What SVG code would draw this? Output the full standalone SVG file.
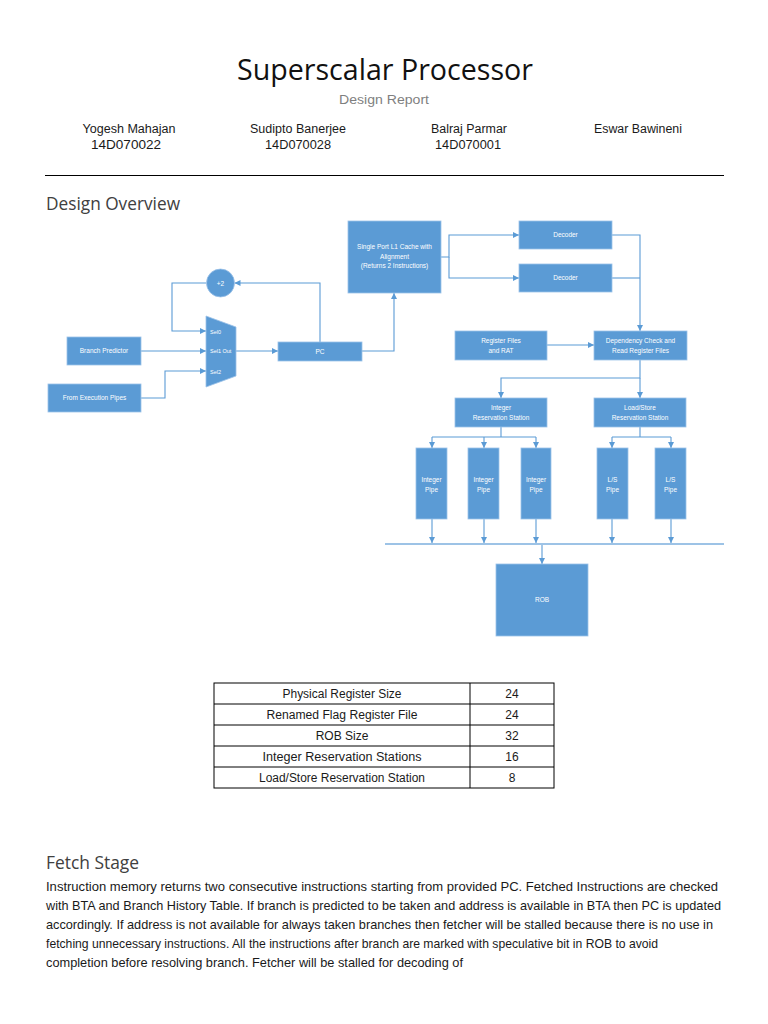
<svg xmlns="http://www.w3.org/2000/svg" width="768" height="1024" viewBox="0 0 768 1024">
<defs>
<style>
.bx{fill:#5B9BD5;stroke:#9CC2E8;stroke-width:0.8}
.bt{font-family:"Liberation Sans",Arial,sans-serif;font-size:6.5px;fill:#ffffff;text-anchor:middle}
.ct{fill:none;stroke:#5B9BD5;stroke-width:1.1}
.hd{font-family:"Open Sans","Liberation Sans",sans-serif;fill:#404040}
.tx{font-family:"Liberation Sans",Arial,sans-serif;fill:#1a1a1a}
.tc{font-family:"Liberation Sans",Arial,sans-serif;font-size:12px;fill:#1a1a1a;text-anchor:middle}
</style>
<marker id="a" viewBox="0 0 10 10" refX="10" refY="5" markerWidth="6" markerHeight="6" orient="auto" markerUnits="userSpaceOnUse"><path d="M0,0 L10,5 L0,10 z" fill="#5B9BD5"/></marker>
</defs>
<rect width="768" height="1024" fill="#ffffff"/>

<g id="header">
<text x="385" y="80" text-anchor="middle" class="hd" font-size="30" style="fill:#111" textLength="296" lengthAdjust="spacingAndGlyphs">Superscalar Processor</text>
<text x="384" y="104" text-anchor="middle" font-family="Liberation Sans, sans-serif" font-size="12" fill="#7f7f7f" textLength="90" lengthAdjust="spacingAndGlyphs">Design Report</text>
<g class="tx" font-size="12.5" text-anchor="middle">
<text x="129" y="133" textLength="93" lengthAdjust="spacingAndGlyphs">Yogesh Mahajan</text>
<text x="126" y="149" textLength="70" lengthAdjust="spacingAndGlyphs">14D070022</text>
<text x="298" y="133" textLength="96" lengthAdjust="spacingAndGlyphs">Sudipto Banerjee</text>
<text x="298" y="149" textLength="66" lengthAdjust="spacingAndGlyphs">14D070028</text>
<text x="469" y="133" textLength="76" lengthAdjust="spacingAndGlyphs">Balraj Parmar</text>
<text x="468" y="149" textLength="66" lengthAdjust="spacingAndGlyphs">14D070001</text>
<text x="638" y="133" textLength="88" lengthAdjust="spacingAndGlyphs">Eswar Bawineni</text>
</g>
<line x1="45" y1="175.5" x2="724" y2="175.5" stroke="#000" stroke-width="1"/>
<text x="46" y="210" class="hd" font-size="18" textLength="134" lengthAdjust="spacingAndGlyphs">Design Overview</text>
</g>

<g id="connectors">
<path class="ct" d="M141,351 H206" marker-end="url(#a)"/>
<path class="ct" d="M141,398 H165 V371 H206" marker-end="url(#a)"/>
<path class="ct" d="M206,283 H172 V331 H206" marker-end="url(#a)"/>
<path class="ct" d="M320,342 V283 H234.5" marker-end="url(#a)"/>
<path class="ct" d="M236,351 H278" marker-end="url(#a)"/>
<path class="ct" d="M362,351 H394 V293" marker-end="url(#a)"/>
<path class="ct" d="M441,257 H449 V235 H519" marker-end="url(#a)"/>
<path class="ct" d="M449,257 V278 H519" marker-end="url(#a)"/>
<path class="ct" d="M612,235 H640 V331" marker-end="url(#a)"/>
<path class="ct" d="M612,278 H640"/>
<path class="ct" d="M547,345 H594" marker-end="url(#a)"/>
<path class="ct" d="M640,360 V378 H501 V398" marker-end="url(#a)"/>
<path class="ct" d="M640,378 V398" marker-end="url(#a)"/>
<path class="ct" d="M501,427 V437 M432,437 H536"/>
<path class="ct" d="M432,437 V448" marker-end="url(#a)"/>
<path class="ct" d="M484,437 V448" marker-end="url(#a)"/>
<path class="ct" d="M536,437 V448" marker-end="url(#a)"/>
<path class="ct" d="M640,427 V437 M612,437 H671"/>
<path class="ct" d="M612,437 V448" marker-end="url(#a)"/>
<path class="ct" d="M671,437 V448" marker-end="url(#a)"/>
<path class="ct" d="M432,519 V543" marker-end="url(#a)"/>
<path class="ct" d="M484,519 V543" marker-end="url(#a)"/>
<path class="ct" d="M536,519 V543" marker-end="url(#a)"/>
<path class="ct" d="M612,519 V543" marker-end="url(#a)"/>
<path class="ct" d="M671,519 V543" marker-end="url(#a)"/>
<line x1="385" y1="544" x2="724" y2="544" stroke="#9DC3E6" stroke-width="2"/>
<path class="ct" d="M542,545 V564" marker-end="url(#a)"/>
</g>

<g id="plus2"><circle cx="220.5" cy="283" r="14" class="bx"/><text x="220.5" y="285.5" class="bt">+2</text></g>
<g id="mux"><polygon points="206,316 236,327 236,376 206,387" class="bx"/>
<text x="210" y="334" class="bt" style="text-anchor:start;font-size:5.5px">Sel0</text>
<text x="210" y="353" class="bt" style="text-anchor:start;font-size:5.5px">Sel1  Out</text>
<text x="210" y="374" class="bt" style="text-anchor:start;font-size:5.5px">Sel2</text></g>
<g id="branch-predictor"><rect x="67" y="337" width="74" height="28" class="bx"/><text x="104" y="353" class="bt">Branch Predictor</text></g>
<g id="from-exec"><rect x="48" y="384" width="93" height="28" class="bx"/><text x="94.5" y="400" class="bt">From Execution Pipes</text></g>
<g id="pc"><rect x="278" y="342" width="84" height="19" class="bx"/><text x="320" y="353.5" class="bt">PC</text></g>
<g id="cache"><rect x="348" y="221" width="93" height="72" class="bx"/>
<text x="394.5" y="249" class="bt">Single Port L1 Cache with</text>
<text x="394.5" y="258.5" class="bt">Alignment</text>
<text x="394.5" y="268" class="bt">(Returns 2 Instructions)</text></g>
<g id="decoder1"><rect x="519" y="221" width="93" height="28" class="bx"/><text x="565.5" y="237" class="bt">Decoder</text></g>
<g id="decoder2"><rect x="519" y="264" width="93" height="28" class="bx"/><text x="565.5" y="280" class="bt">Decoder</text></g>
<g id="regfiles"><rect x="455" y="331" width="92" height="29" class="bx"/><text x="501" y="343" class="bt">Register Files</text><text x="501" y="353" class="bt">and RAT</text></g>
<g id="dependency"><rect x="594" y="331" width="93" height="29" class="bx"/><text x="640.5" y="343" class="bt">Dependency Check and</text><text x="640.5" y="353" class="bt">Read Register Files</text></g>
<g id="int-rs"><rect x="455" y="398" width="92" height="29" class="bx"/><text x="501" y="410" class="bt">Integer</text><text x="501" y="419.5" class="bt">Reservation Station</text></g>
<g id="ls-rs"><rect x="594" y="398" width="92" height="29" class="bx"/><text x="640" y="410" class="bt">Load/Store</text><text x="640" y="419.5" class="bt">Reservation Station</text></g>
<g id="int-pipe1"><rect x="416" y="448" width="31" height="71" class="bx"/><text x="431.5" y="482" class="bt">Integer</text><text x="431.5" y="491.5" class="bt">Pipe</text></g>
<g id="int-pipe2"><rect x="468" y="448" width="31" height="71" class="bx"/><text x="483.5" y="482" class="bt">Integer</text><text x="483.5" y="491.5" class="bt">Pipe</text></g>
<g id="int-pipe3"><rect x="521" y="448" width="30" height="71" class="bx"/><text x="536" y="482" class="bt">Integer</text><text x="536" y="491.5" class="bt">Pipe</text></g>
<g id="ls-pipe1"><rect x="597" y="448" width="31" height="71" class="bx"/><text x="612.5" y="482" class="bt">L/S</text><text x="612.5" y="491.5" class="bt">Pipe</text></g>
<g id="ls-pipe2"><rect x="655" y="448" width="31" height="71" class="bx"/><text x="670.5" y="482" class="bt">L/S</text><text x="670.5" y="491.5" class="bt">Pipe</text></g>
<g id="rob"><rect x="496" y="564" width="92" height="72" class="bx"/><text x="542" y="602" class="bt">ROB</text></g>

<g id="table">
<rect x="214" y="683" width="340" height="105" fill="none" stroke="#000" stroke-width="1"/>
<line x1="470" y1="683" x2="470" y2="788" stroke="#000" stroke-width="1"/>
<g stroke="#000" stroke-width="1"><line x1="214" y1="704" x2="554" y2="704"/><line x1="214" y1="725" x2="554" y2="725"/><line x1="214" y1="746" x2="554" y2="746"/><line x1="214" y1="767" x2="554" y2="767"/></g>
<text x="342" y="698" class="tc" textLength="119" lengthAdjust="spacingAndGlyphs">Physical Register Size</text>
<text x="342" y="719" class="tc" textLength="151" lengthAdjust="spacingAndGlyphs">Renamed Flag Register File</text>
<text x="342" y="740" class="tc">ROB Size</text>
<text x="342" y="761" class="tc" textLength="159" lengthAdjust="spacingAndGlyphs">Integer Reservation Stations</text>
<text x="342" y="782" class="tc" textLength="166" lengthAdjust="spacingAndGlyphs">Load/Store Reservation Station</text>
<text x="512" y="698" class="tc">24</text>
<text x="512" y="719" class="tc">24</text>
<text x="512" y="740" class="tc">32</text>
<text x="512" y="761" class="tc">16</text>
<text x="512" y="782" class="tc">8</text>
</g>

<g id="fetch">
<text x="46" y="869" class="hd" font-size="18" textLength="93" lengthAdjust="spacingAndGlyphs">Fetch Stage</text>
<g class="tx" font-size="13">
<text x="46" y="891" textLength="672" lengthAdjust="spacingAndGlyphs">Instruction memory returns two consecutive instructions starting from provided PC. Fetched Instructions are checked</text>
<text x="46" y="910" textLength="675" lengthAdjust="spacingAndGlyphs">with BTA and Branch History Table. If branch is predicted to be taken and address is available in BTA then PC is updated</text>
<text x="46" y="929" textLength="667" lengthAdjust="spacingAndGlyphs">accordingly. If address is not available for always taken branches then fetcher will be stalled because there is no use in</text>
<text x="46" y="948" textLength="612" lengthAdjust="spacingAndGlyphs">fetching unnecessary instructions. All the instructions after branch are marked with speculative bit in ROB to avoid</text>
<text x="46" y="967" textLength="417" lengthAdjust="spacingAndGlyphs">completion before resolving branch. Fetcher will be stalled for decoding of</text>
</g>
</g>
</svg>
